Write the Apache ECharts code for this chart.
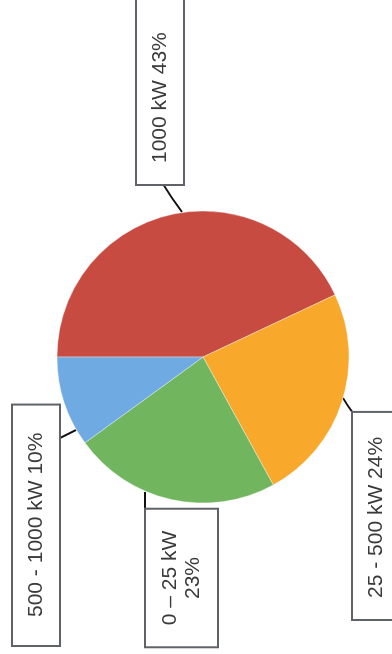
<!DOCTYPE html>
<html>
<head>
<meta charset="utf-8">
<script src="https://cdn.jsdelivr.net/npm/echarts@6/dist/echarts.min.js"></script>
<style>
  html, body { margin: 0; padding: 0; background: #fff; overflow: hidden; width: 392px; height: 654px; }
  /* the chart is laid out landscape and turned a quarter turn counter-clockwise */
  #chart { position: absolute; left: 0; top: 0; width: 654px; height: 392px;
           transform-origin: 0 0; transform: translateY(654px) rotate(-90deg); }
</style>
</head>
<body>
<div id="chart"></div>
<script>
// capacity classes and their share of the total (%)
const categories = ['1000 kW', '25 - 500 kW', '0 – 25 kW', '500 - 1000 kW'];
const shares = [43, 24, 23, 10];
const colors = ['#C84B41', '#F8A82A', '#71B55E', '#6FAAE2'];

// boxed callouts: anchor, alignment, inner padding, leader line
const labelBoxes = [
  { x: 470, y: 137, align: 'left',   padding: [13, 60, 12, 21], lineHeight: 21, wrap: false,
    line: [[442, 182], [456, 172], [470, 163]] },
  { x: 35,  y: 353, align: 'left',   padding: [13, 24, 12, 21], lineHeight: 21, wrap: false,
    line: [[256, 343], [248, 348], [241, 353]] },
  { x: 76,  y: 146, align: 'center', padding: [13, 21, 12, 21], lineHeight: 23, wrap: true,
    line: [[162, 145], [137, 145], [112, 145]] },
  { x: 9,   y: 13,  align: 'left',   padding: [13, 27, 12, 28], lineHeight: 21, wrap: false,
    line: [[224, 76], [220, 68], [216, 60]] }
];

const dom = document.getElementById('chart');
const chart = echarts.init(dom, null, { width: 654, height: 392, renderer: 'canvas' });

const data = categories.map((name, i) => ({
  name: name,
  value: shares[i],
  itemStyle: { color: colors[i] },
  label: {
    padding: labelBoxes[i].padding,
    lineHeight: labelBoxes[i].lineHeight,
    align: labelBoxes[i].align
  }
}));

chart.setOption({
  animation: false,
  backgroundColor: '#ffffff',
  series: [{
    type: 'pie',
    center: [297, 203],
    radius: 146,
    startAngle: 90,
    clockwise: true,
    avoidLabelOverlap: false,
    emphasis: { disabled: true },
    itemStyle: { borderColor: 'rgba(255,255,255,0.6)', borderWidth: 0.6 },
    label: {
      show: true,
      position: 'outside',
      fontFamily: 'Liberation Sans, Arial, sans-serif',
      fontSize: 21,
      color: '#3a3a3a',
      backgroundColor: '#ffffff',
      borderColor: '#5f6368',
      borderWidth: 2,
      borderRadius: 0,
      formatter: (p) => p.name + (labelBoxes[p.dataIndex].wrap ? '\n' : ' ') + p.value + '%'
    },
    labelLine: {
      show: true,
      lineStyle: { color: '#111111', width: 2 }
    },
    labelLayout: (p) => {
      const b = labelBoxes[p.dataIndex];
      return {
        x: b.x,
        y: b.y,
        align: b.align,
        verticalAlign: 'top',
        labelLinePoints: b.line
      };
    },
    data: data
  }]
});
</script>
</body>
</html>
